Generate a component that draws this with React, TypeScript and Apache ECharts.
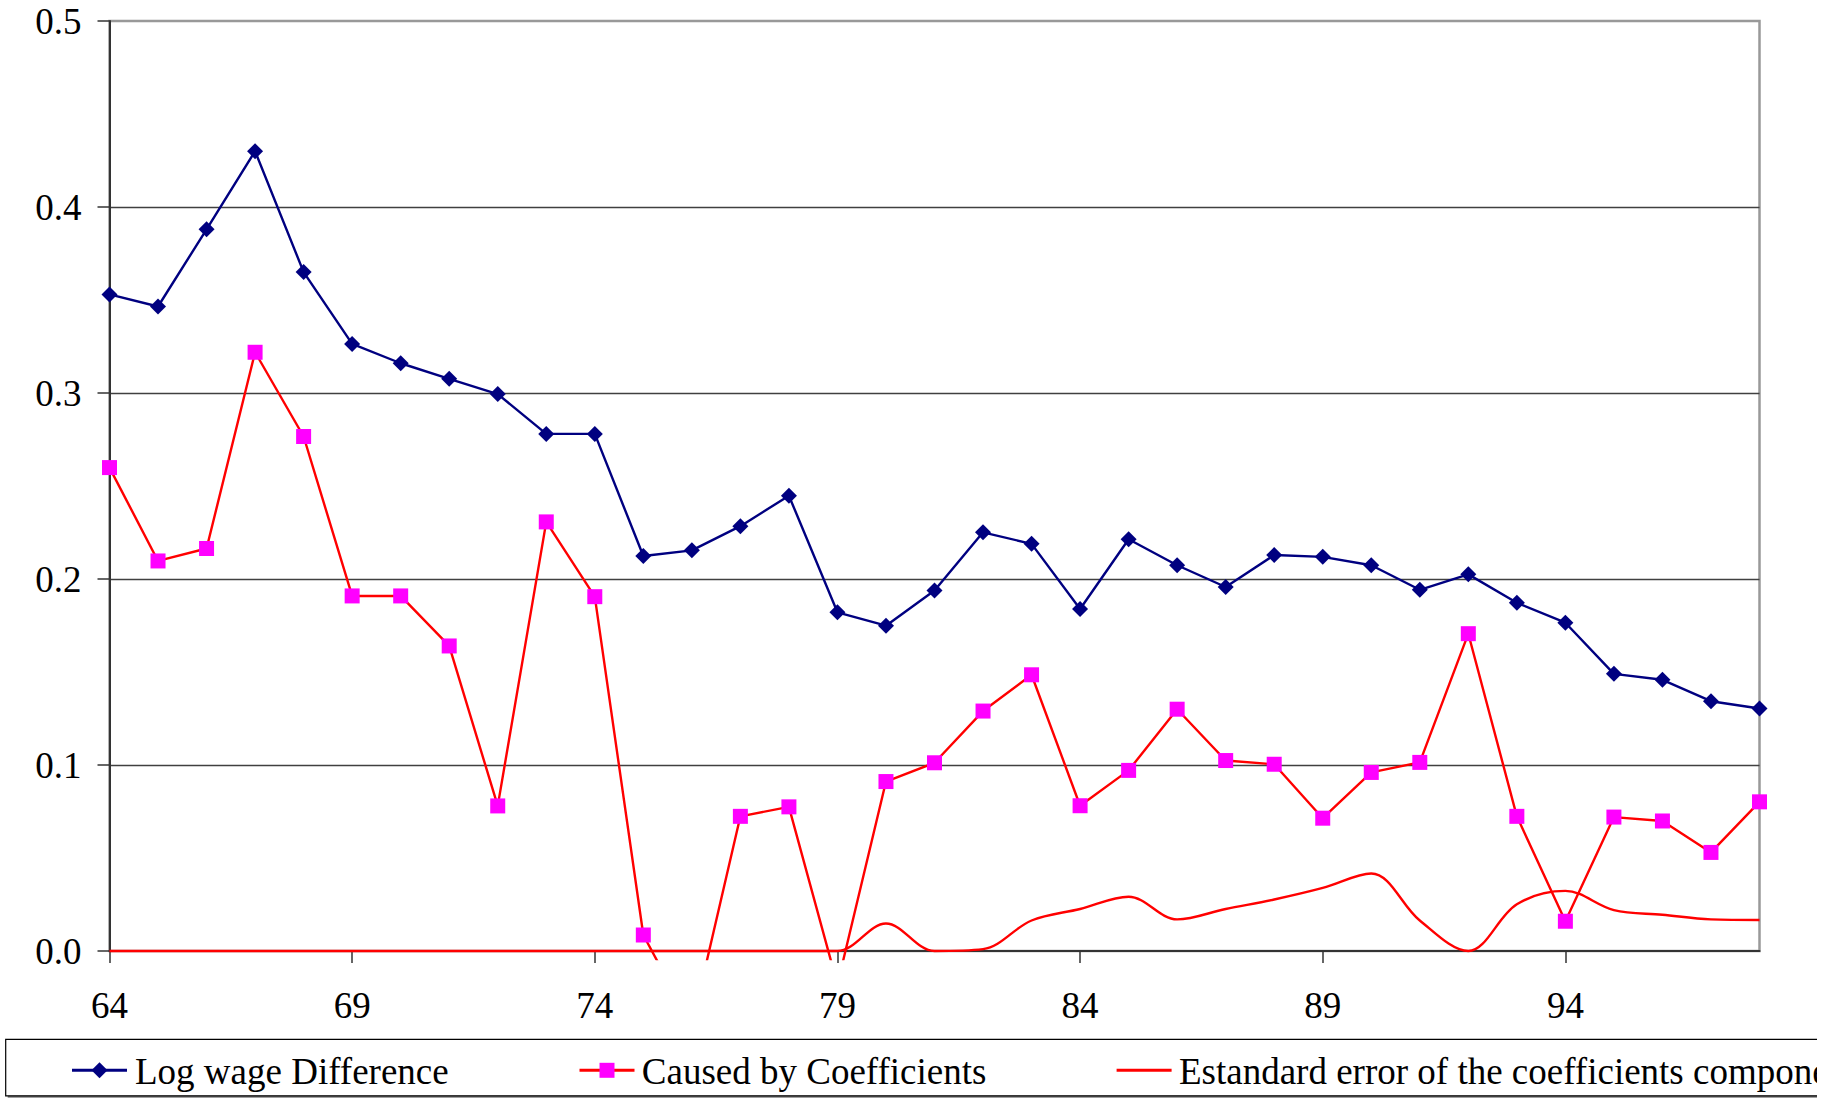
import React, { useEffect, useRef } from "react";
import * as echarts from "echarts";

// ---------- data ----------
const years = [
  "64", "65", "66", "67", "68", "69", "70", "71", "72", "73", "74", "75",
  "76", "77", "78", "79", "80", "81", "82", "83", "84", "85", "86", "87",
  "88", "89", "90", "91", "92", "93", "94", "95", "96", "97", "98",
];

const logWageDifference = [
  0.353, 0.3465, 0.388, 0.43, 0.365, 0.3264, 0.316, 0.3076, 0.2994, 0.278, 0.278, 0.2124,
  0.2154, 0.2284, 0.2448, 0.1821, 0.1749, 0.1938, 0.2251, 0.2189, 0.1839, 0.2214, 0.2074, 0.1957,
  0.2129, 0.2119, 0.2074, 0.1942, 0.2025, 0.1872, 0.1765, 0.149, 0.1458, 0.1343, 0.1304,
];

const causedByCoefficients = [
  0.2599, 0.2097, 0.2164, 0.3219, 0.2766, 0.1909, 0.1909, 0.164, 0.078, 0.2307, 0.1905, 0.0086,
  -0.04, 0.0724, 0.0775, -0.018, 0.0911, 0.1012, 0.129, 0.1485, 0.0781, 0.0971, 0.13, 0.1024,
  0.1004, 0.0714, 0.096, 0.1014, 0.1706, 0.0724, 0.016, 0.072, 0.0699, 0.053, 0.0802,
];

const standardError = [
  0, 0, 0, 0, 0, 0, 0, 0, 0, 0, 0, 0,
  0, 0, 0, 0, 0.0148, 0, 0.001, 0.0164, 0.0226, 0.0292, 0.017, 0.0226,
  0.0277, 0.0339, 0.0417, 0.0164, 0, 0.0251, 0.0323, 0.022, 0.0195, 0.017, 0.0167,
];

const seriesNames = [
  "Log wage Difference",
  "Caused by Coefficients",
  "Estandard error of the coefficients component",
];

const yMin = 0;
const yMax = 0.5;
const yStep = 0.1;

// ---------- layout / style ----------
const W = 1817;
const H = 1100;
const GRID_LEFT = 109.5;
const GRID_RIGHT = W - 1759.5;
const GRID_TOP = 21;
const GRID_BOTTOM = H - 951;
const OVERSHOOT = 8; // lines may run a little below the x axis, as in the original
const FONT = "Liberation Serif";
const FS = 37;

const NAVY = "#000080";
const RED = "#FF0000";
const MAGENTA = "#FF00FF";

export default function App() {
  const ref = useRef<HTMLDivElement>(null);

  useEffect(() => {
    document.body.style.margin = "0";
    if (!ref.current) return;
    const chart = echarts.init(ref.current, undefined, { renderer: "svg" });

    const plotH = H - GRID_TOP - GRID_BOTTOM;
    const pxPerUnit = plotH / (yMax - yMin);
    const yMinB = yMin - OVERSHOOT / pxPerUnit;

    // legend drawn as graphic (box runs past the right edge and is cut off)
    const legendTop = 1039.3;
    const legendH = 56.5;
    const legendCy = 1070.3;
    const iconX = [72, 579.5, 1116.6];
    const iconW = 55;
    const textX = [135, 641.8, 1179];
    const lineColors = [NAVY, RED, RED];

    const legendEls: any[] = [
      {
        type: "rect",
        shape: { x: 7.7, y: legendTop + 2, width: 2000, height: legendH },
        style: { fill: "#7f7f7f" },
        silent: true,
      },
      {
        type: "rect",
        shape: { x: 5.7, y: legendTop, width: 2000, height: legendH },
        style: { fill: "#fff", stroke: "#000", lineWidth: 1.2 },
        silent: true,
      },
    ];
    seriesNames.forEach((name, i) => {
      const x0 = iconX[i];
      const cx = x0 + iconW / 2;
      legendEls.push({
        type: "line",
        shape: { x1: x0, y1: legendCy, x2: x0 + iconW, y2: legendCy },
        style: { stroke: lineColors[i], lineWidth: 3 },
        silent: true,
      });
      if (i === 0) {
        legendEls.push({
          type: "polygon",
          shape: {
            points: [
              [cx, legendCy - 8],
              [cx + 8, legendCy],
              [cx, legendCy + 8],
              [cx - 8, legendCy],
            ],
          },
          style: { fill: NAVY },
          silent: true,
        });
      } else if (i === 1) {
        legendEls.push({
          type: "rect",
          shape: { x: cx - 7.5, y: legendCy - 7.5, width: 15, height: 15 },
          style: { fill: MAGENTA },
          silent: true,
        });
      }
      legendEls.push({
        type: "text",
        x: textX[i],
        y: legendCy + 1,
        style: {
          text: name,
          fontFamily: FONT,
          fontSize: FS,
          fill: "#000",
          textAlign: "left",
          textVerticalAlign: "middle",
          verticalAlign: "middle",
        },
        silent: true,
      });
    });

    const labelStyle = {
      fontFamily: FONT,
      fontSize: FS,
      color: "#000",
      lineHeight: FS,
    };

    const option: any = {
      animation: false,
      backgroundColor: "#fff",
      textStyle: { fontFamily: FONT },
      grid: [
        {
          left: GRID_LEFT,
          right: GRID_RIGHT,
          top: GRID_TOP,
          bottom: GRID_BOTTOM,
          show: true,
          borderColor: "#999",
          borderWidth: 2.5,
          backgroundColor: "transparent",
        },
        {
          left: GRID_LEFT,
          right: GRID_RIGHT,
          top: GRID_TOP,
          bottom: GRID_BOTTOM - OVERSHOOT,
          show: false,
        },
      ],
      xAxis: [
        {
          type: "category",
          gridIndex: 0,
          data: years,
          boundaryGap: false,
          axisLine: { show: true, lineStyle: { color: "#333", width: 2 } },
          axisTick: {
            show: true,
            interval: 4,
            length: 12,
            inside: false,
            lineStyle: { color: "#333", width: 1.5 },
          },
          axisLabel: {
            ...labelStyle,
            interval: 4,
            margin: 36,
          },
          splitLine: { show: false },
        },
        {
          type: "category",
          gridIndex: 1,
          data: years,
          boundaryGap: false,
          show: false,
        },
      ],
      yAxis: [
        {
          type: "value",
          gridIndex: 0,
          min: yMin,
          max: yMax,
          interval: yStep,
          axisLine: { show: true, lineStyle: { color: "#333", width: 2 } },
          axisTick: {
            show: true,
            length: 12,
            inside: false,
            lineStyle: { color: "#333", width: 1.5 },
          },
          axisLabel: {
            ...labelStyle,
            margin: 28,
            formatter: (v: number) => v.toFixed(1),
          },
          splitLine: {
            show: true,
            showMinLine: false,
            showMaxLine: false,
            lineStyle: { color: "#404040", width: 1.3 },
          },
        },
        {
          type: "value",
          gridIndex: 1,
          min: yMinB,
          max: yMax,
          show: false,
          splitLine: { show: false },
        },
      ],
      series: [
        {
          name: seriesNames[0],
          type: "line",
          xAxisIndex: 1,
          yAxisIndex: 1,
          data: logWageDifference,
          symbol: "diamond",
          symbolSize: 16,
          showAllSymbol: true,
          lineStyle: { color: NAVY, width: 2.4 },
          itemStyle: { color: NAVY },
          clip: true,
          z: 3,
        },
        {
          name: seriesNames[1],
          type: "line",
          xAxisIndex: 1,
          yAxisIndex: 1,
          data: causedByCoefficients,
          symbol: "rect",
          symbolSize: 15,
          showAllSymbol: true,
          lineStyle: { color: RED, width: 2.4 },
          itemStyle: { color: MAGENTA },
          clip: true,
          z: 4,
        },
        {
          name: seriesNames[2],
          type: "line",
          xAxisIndex: 1,
          yAxisIndex: 1,
          data: standardError,
          symbol: "none",
          smooth: 0.35,
          lineStyle: { color: RED, width: 2.4 },
          itemStyle: { color: RED },
          clip: true,
          z: 5,
        },
      ],
      graphic: { elements: legendEls },
    };

    chart.setOption(option);
    return () => {
      chart.dispose();
    };
  }, []);

  return (
    <div
      ref={ref}
      style={{ width: W, height: H, overflow: "hidden", background: "#fff" }}
    />
  );
}
